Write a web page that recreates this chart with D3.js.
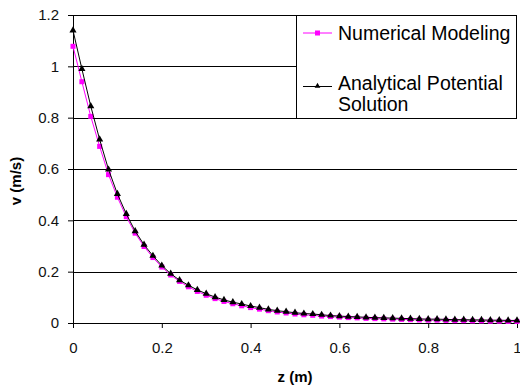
<!DOCTYPE html>
<html>
<head>
<meta charset="utf-8">
<script src="https://cdn.jsdelivr.net/npm/d3@7"></script>
<style>
  html, body { margin: 0; padding: 0; background: #fff; }
  svg { display: block; }
  text { font-family: "Liberation Sans", Arial, sans-serif; }
</style>
</head>
<body>
<svg id="chart" width="520" height="388"></svg>
<script>
// ---- data ----
const zValues = [0, 0.02, 0.04, 0.06, 0.08, 0.10, 0.12, 0.14, 0.16, 0.18, 0.20, 0.22, 0.24, 0.26, 0.28, 0.30, 0.32, 0.34, 0.36, 0.38, 0.40, 0.42, 0.44, 0.46, 0.48, 0.50, 0.52, 0.54, 0.56, 0.58, 0.60, 0.62, 0.64, 0.66, 0.68, 0.70, 0.72, 0.74, 0.76, 0.78, 0.80, 0.82, 0.84, 0.86, 0.88, 0.90, 0.92, 0.94, 0.96, 0.98, 1.00];
const numerical = [1.078, 0.94, 0.805, 0.688, 0.578, 0.490, 0.414, 0.350, 0.298, 0.255, 0.218, 0.187, 0.162, 0.141, 0.123, 0.108, 0.095, 0.084, 0.075, 0.067, 0.060, 0.054, 0.048, 0.043, 0.039, 0.035, 0.032, 0.030, 0.027, 0.025, 0.023, 0.021, 0.020, 0.018, 0.017, 0.016, 0.015, 0.014, 0.013, 0.012, 0.011, 0.011, 0.010, 0.009, 0.009, 0.008, 0.008, 0.007, 0.007, 0.006, 0.006];
const analytical = [1.14, 0.99, 0.845, 0.715, 0.598, 0.503, 0.425, 0.358, 0.305, 0.262, 0.224, 0.192, 0.167, 0.147, 0.129, 0.114, 0.101, 0.090, 0.081, 0.074, 0.066, 0.060, 0.053, 0.048, 0.044, 0.040, 0.037, 0.035, 0.032, 0.029, 0.027, 0.025, 0.024, 0.022, 0.021, 0.020, 0.019, 0.018, 0.017, 0.016, 0.015, 0.015, 0.014, 0.013, 0.013, 0.012, 0.012, 0.011, 0.011, 0.010, 0.010];
const xTicks = [0, 0.2, 0.4, 0.6, 0.8, 1];
const xTickLabels = ["0", "0.2", "0.4", "0.6", "0.8", "1"];
const yTicks = [0, 0.2, 0.4, 0.6, 0.8, 1, 1.2];
const yTickLabels = ["0", "0.2", "0.4", "0.6", "0.8", "1", "1.2"];
const seriesNames = ["Numerical Modeling", "Analytical Potential Solution"];

// ---- layout ----
const svg = d3.select("#chart");
const pL = 73, pR = 517, pT = 15, pB = 323;

const x = d3.scaleLinear().domain([0, 1]).range([pL, pR]);
const y = d3.scaleLinear().domain([0, 1.2]).range([pB, pT]);

// gridlines
svg.append("g").selectAll("line").data(yTicks).join("line")
  .attr("x1", pL).attr("x2", pR)
  .attr("y1", d => Math.round(y(d)) + 0.5).attr("y2", d => Math.round(y(d)) + 0.5)
  .attr("stroke", "#000").attr("stroke-width", 1);

// axes
const yAxis = d3.axisLeft(y).tickValues(yTicks)
  .tickFormat((d, i) => yTickLabels[i]).tickSize(5).tickPadding(9);
const gy = svg.append("g").attr("transform", `translate(${pL},0)`).call(yAxis);

const xAxis = d3.axisBottom(x).tickValues(xTicks)
  .tickFormat((d, i) => xTickLabels[i]).tickSize(5).tickPadding(14);
const gx = svg.append("g").attr("transform", `translate(0,${pB})`).call(xAxis);

[gx, gy].forEach(g => {
  g.select(".domain").attr("stroke", "#000");
  g.selectAll(".tick line").attr("stroke", "#000");
  g.selectAll(".tick text").attr("fill", "#111")
    .style("font-family", '"Liberation Sans", Arial, sans-serif')
    .style("font-size", "15px");
});
gy.select(".domain").attr("d", `M-5,${pB + 0.5}H0.5V${pT + 0.5}H-5`);
gx.select(".domain").attr("d", `M${pL + 0.5},0.5H${pR + 0.5}`);

// axis titles
svg.append("text")
  .attr("x", (pL + pR) / 2).attr("y", 382)
  .attr("text-anchor", "middle")
  .style("font-size", "15px").style("font-weight", "bold")
  .text("z (m)");
svg.append("text")
  .attr("transform", "translate(21,181) rotate(-90)")
  .attr("text-anchor", "middle")
  .style("font-size", "15px").style("font-weight", "bold")
  .text("v (m/s)");

// series
const line = d3.line().x(d => x(d[0])).y(d => y(d[1]));
const numData = zValues.map((z, i) => [z, numerical[i]]);
const anaData = zValues.map((z, i) => [z, analytical[i]]);

svg.append("path").datum(numData).attr("d", line)
  .attr("fill", "none").attr("stroke", "#ff00ff").attr("stroke-width", 1);
svg.append("g").selectAll("rect").data(numData).join("rect")
  .attr("x", d => x(d[0]) - 2.5).attr("y", d => y(d[1]) - 2.5)
  .attr("width", 5).attr("height", 5).attr("fill", "#ff00ff");

const tri = d3.symbol().type(d3.symbolTriangle).size(22);
svg.append("path").datum(anaData).attr("d", line)
  .attr("fill", "none").attr("stroke", "#000").attr("stroke-width", 1);
svg.append("g").selectAll("path").data(anaData).join("path")
  .attr("transform", d => `translate(${x(d[0])},${y(d[1])})`)
  .attr("d", tri).attr("fill", "#000");

// legend
const lg = svg.append("g");
lg.append("rect").attr("x", 296.5).attr("y", 15.5).attr("width", 220).attr("height", 103)
  .attr("fill", "#fff").attr("stroke", "#000").attr("stroke-width", 1);
lg.append("line").attr("x1", 303).attr("x2", 332).attr("y1", 33).attr("y2", 33)
  .attr("stroke", "#ff00ff").attr("stroke-width", 1);
lg.append("rect").attr("x", 315).attr("y", 30.5).attr("width", 5).attr("height", 5).attr("fill", "#ff00ff");
lg.append("text").attr("x", 338).attr("y", 39.5)
  .style("font-size", "19.5px").text(seriesNames[0]);
lg.append("line").attr("x1", 303).attr("x2", 332).attr("y1", 86.5).attr("y2", 86.5)
  .attr("stroke", "#000").attr("stroke-width", 1);
lg.append("path").attr("transform", "translate(317.5,86)")
  .attr("d", d3.symbol().type(d3.symbolTriangle).size(14)).attr("fill", "#000");
const words = seriesNames[1].split(" ");
lg.append("text").attr("x", 338).attr("y", 90)
  .style("font-size", "19.5px").text(words[0] + " " + words[1]);
lg.append("text").attr("x", 338).attr("y", 111)
  .style("font-size", "19.5px").text(words[2]);
</script>
</body>
</html>
